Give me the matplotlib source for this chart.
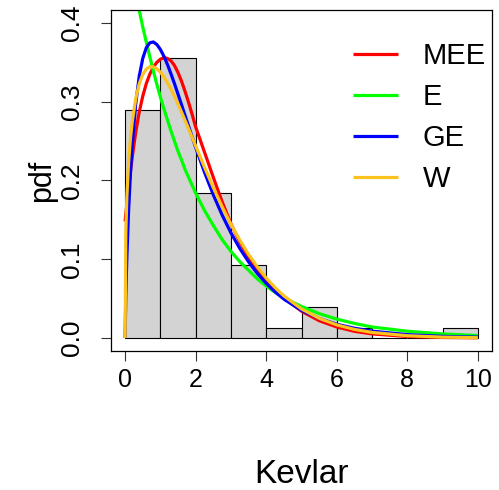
import matplotlib.pyplot as plt
import numpy as np

# Kevlar histogram (unit bins, density scale)
bin_edges = [0, 1, 2, 3, 4, 5, 6, 7, 8, 9, 10]
bin_counts = [22, 27, 14, 7, 1, 3, 1, 0, 0, 1]

# fitted densities
curve_x = [0, 0.02, 0.05, 0.1, 0.15, 0.2, 0.3, 0.4, 0.5, 0.6, 0.7, 0.8, 0.9,
           1.0, 1.1, 1.2, 1.3, 1.4, 1.5, 1.6, 1.7, 1.8, 1.9, 2.0, 2.25, 2.5,
           2.75, 3.0, 3.25, 3.5, 3.75, 4.0, 4.25, 4.5, 5.0, 5.5, 6.0, 6.5,
           7.0, 8.0, 9.0, 10.0]
pdf_mee = [.148, .157, .170, .191, .211, .229, .261, .287, .307, .323, .335,
           .344, .350, .354, .356, .355, .352, .346, .337, .326, .313, .299,
           .284, .268, .236, .204, .173, .145, .122, .103, .087, .073, .061,
           .051, .034, .022, .014, .0085, .0052, .0019, .0007, .0003]
pdf_e = [.510, .505, .497, .485, .472, .461, .438, .416, .395, .376, .357,
         .339, .322, .306, .291, .277, .263, .250, .237, .226, .214, .204,
         .194, .184, .162, .143, .125, .110, .097, .086, .075, .066, .058,
         .051, .040, .031, .024, .0185, .014, .0086, .0052, .0031]
pdf_ge = [0, .0552, .1037, .1628, .2080, .2439, .2971, .3323, .355, .3685,
          .3749, .3759, .3727, .3664, .3577, .3473, .3355, .3229, .3096, .2961,
          .2824, .2688, .2553, .2421, .2105, .1819, .1562, .1335, .1138, .0967,
          .0819, .0694, .0586, .0494, .0351, .0248, .0175, .0124, .0087, .0043,
          .0021, .0011]
pdf_w = [0, .1335, .1798, .2237, .2526, .274, .3037, .3227, .3347, .3415,
         .3444, .3444, .3419, .3375, .3315, .3242, .3158, .3067, .2970, .2868,
         .2763, .2656, .2547, .2438, .2169, .191, .1667, .1444, .1243, .1061,
         .0902, .0762, .064, .0535, .0369, .025, .01667, .01096, .00712,
         .00289, .00112, .00042]

labels = ["MEE", "E", "GE", "W"]
colors = ["#FF0000", "#00FF00", "#0000FF", "#FCC21E"]

font = ['Liberation Sans', 'DejaVu Sans']

fig = plt.figure(figsize=(4.99, 4.90), dpi=100)
ax = fig.add_axes([111/499, 1 - 351/490, 381/499, 341/490])

dens = np.array(bin_counts) / sum(bin_counts)
ax.bar(bin_edges[:-1], dens, width=np.diff(bin_edges), align='edge',
       color='#D3D3D3', edgecolor='black', linewidth=0.8)

for ys, c, lab in zip([pdf_mee, pdf_e, pdf_ge, pdf_w], colors, labels):
    ax.plot(curve_x, ys, color=c, lw=2.3, label=lab, solid_capstyle='butt')

ax.set_xlim(-0.4, 10.4)
ax.set_ylim(-0.0165, 0.4165)
ax.set_xticks([0, 2, 4, 6, 8, 10])
ax.set_yticks([0, 0.1, 0.2, 0.3, 0.4])
ax.set_yticklabels(["0.0", "0.1", "0.2", "0.3", "0.4"])
ax.tick_params(direction='out', length=7.5, width=0.8, color='#333333')
ax.tick_params(axis='x', pad=4.5, labelsize=18)
ax.tick_params(axis='y', pad=12, labelsize=19, labelrotation=90)
for t in ax.get_xticklabels() + ax.get_yticklabels():
    t.set_family(font)
for t in ax.get_yticklabels():
    t.set_va('center')
for s in ax.spines.values():
    s.set_linewidth(0.9)

ax.set_xlabel("Kevlar", fontsize=24, family=font)
ax.xaxis.label.set_va('baseline')
ax.xaxis.set_label_coords(0.5, (351 - 483) / 341)
ax.set_ylabel("pdf", fontsize=22, family=font)
ax.yaxis.label.set_va('center')
ax.yaxis.set_label_coords((42 - 111) / 381, 0.5)

ax.legend(loc='upper left', bbox_to_anchor=(353/499, 1 - 42/490),
          bbox_transform=fig.transFigure, frameon=False, borderpad=0,
          borderaxespad=0, handlelength=1.53, handletextpad=0.85,
          labelspacing=0.45, prop={'family': font, 'size': 21})

plt.savefig('out.png', dpi=100)
